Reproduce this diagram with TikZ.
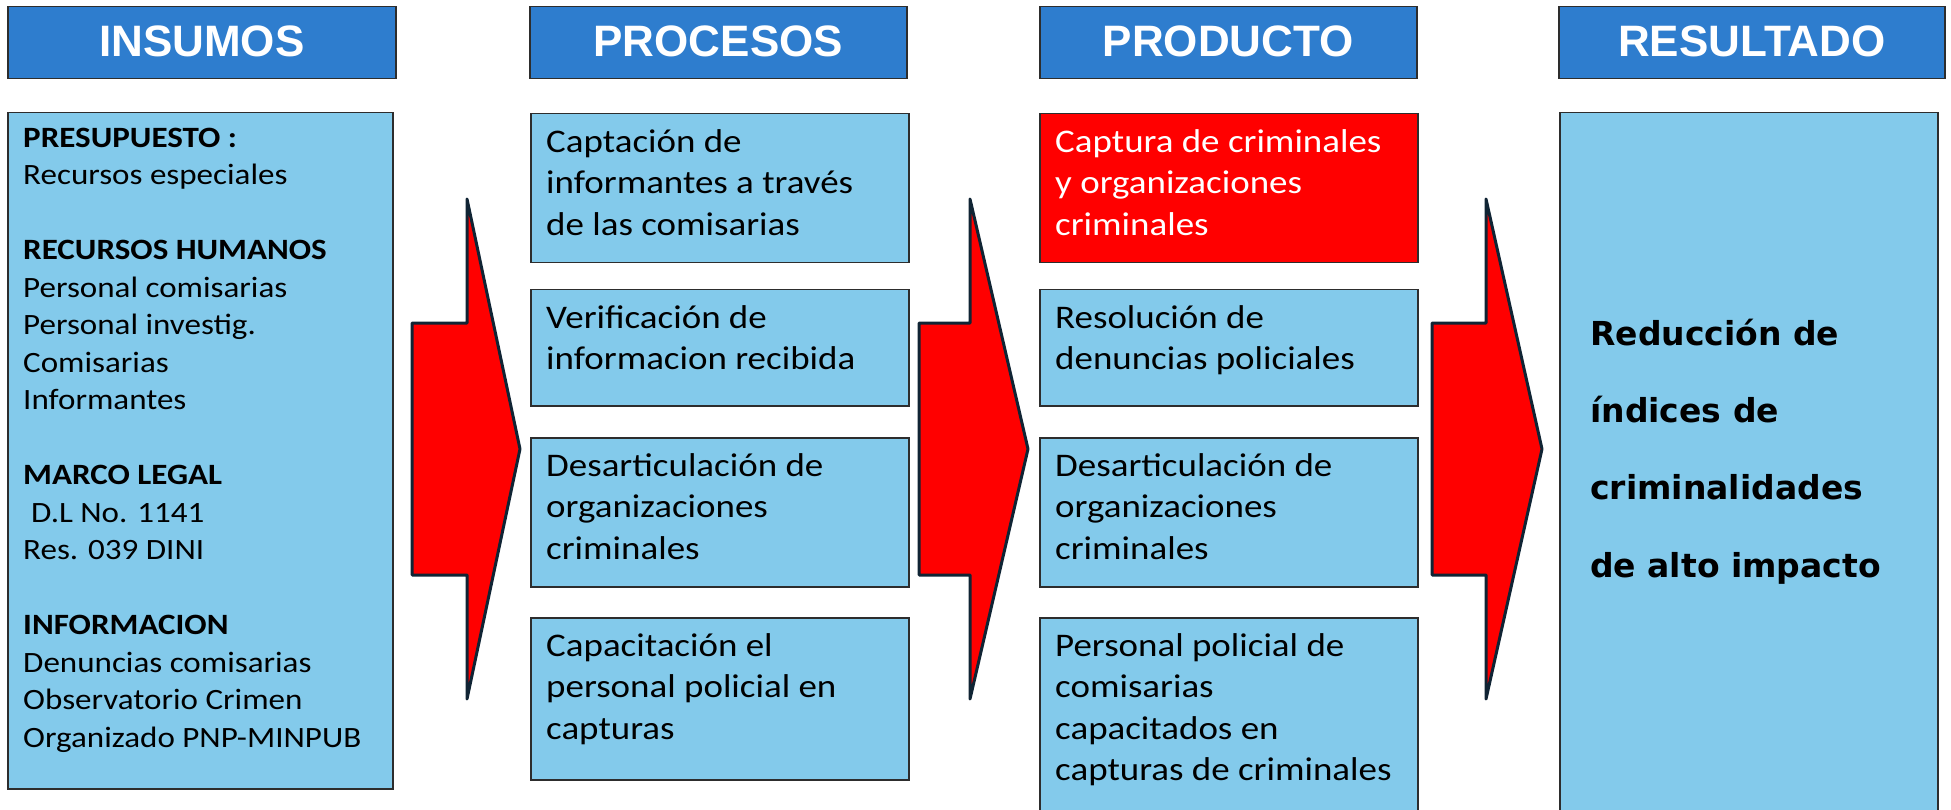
\documentclass[tikz,border=0pt]{standalone}
\usepackage{fontspec}
\newfontfamily\bodyfont[FakeStretch=1.12]{Carlito}
\newfontfamily\hdrfont{Liberation Sans}
\newfontfamily\resfont{DejaVu Sans}
\definecolor{hdrblue}{RGB}{46,125,206}
\definecolor{boxblue}{RGB}{131,202,235}
\definecolor{arrowred}{RGB}{255,0,0}
\definecolor{edgegray}{RGB}{45,45,45}
\definecolor{arrowedge}{RGB}{16,36,52}
\newcommand{\stA}{\rule{0pt}{27pt}}
\newcommand{\stB}{\rule{0pt}{30pt}}
\newcommand{\stC}{\rule{0pt}{32pt}}
\begin{document}
\begin{tikzpicture}[x=1pt,y=-1pt,
  hdr/.style={draw=edgegray, line width=1.5pt, fill=hdrblue, anchor=north west, inner sep=0pt,
    text=white, font=\hdrfont\bfseries\fontsize{44}{50}\selectfont, text depth=4pt},
  bbox/.style={draw=edgegray, line width=1.5pt, fill=boxblue, anchor=north west, inner sep=0pt},
  rbox/.style={bbox, fill=arrowred},
  btext/.style={anchor=north west, inner sep=0pt, align=left,
    font=\bodyfont\fontsize{33}{41.5}\selectfont},
  itext/.style={anchor=north west, inner sep=0pt, align=left,
    font=\bodyfont\fontsize{29.5}{37.5}\selectfont},
  rtext/.style={anchor=north west, inner sep=0pt, align=left,
    font=\resfont\bfseries\fontsize{33}{77.3}\selectfont},
  bigarrow/.style={draw=arrowedge, line width=3pt, fill=arrowred, line join=round}
]
\useasboundingbox (0,0) rectangle (1951,810);
\clip (0,0) rectangle (1951,810);

% headers
\node[hdr, minimum width=388pt, minimum height=72pt] (hIns) at (7,6) {INSUMOS};
\node[hdr, minimum width=377pt, minimum height=72pt] (hPro) at (529,6) {PROCESOS};
\node[hdr, minimum width=377pt, minimum height=72pt] (hPrd) at (1039,6) {PRODUCTO};
\node[hdr, minimum width=386pt, minimum height=72pt] (hRes) at (1558,6) {RESULTADO};

% insumos box
\node[bbox, minimum width=385pt, minimum height=676pt] (bIns) at (7,112) {};
\node[itext] (tIns) at (23,120) {\stA\textbf{PRESUPUESTO :}\\ Recursos especiales\\ \mbox{}\\
  \textbf{RECURSOS HUMANOS}\\ Personal comisarias\\ Personal investig.\\ Comisarias\\ Informantes\\ \mbox{}\\
  \textbf{MARCO LEGAL}\\ \hspace*{8pt}D.L No. 1141\\ Res. 039 DINI\\ \mbox{}\\
  \textbf{INFORMACION}\\ Denuncias comisarias\\ Observatorio Crimen\\ Organizado PNP-MINPUB};

% procesos
\node[bbox, minimum width=378pt, minimum height=149pt] (p1) at (530,113) {};
\node[bbox, minimum width=378pt, minimum height=116pt] (p2) at (530,289) {};
\node[bbox, minimum width=378pt, minimum height=149pt] (p3) at (530,437) {};
\node[bbox, minimum width=378pt, minimum height=162pt] (p4) at (530,617) {};
\node[btext] (tp1) at (546,122) {\stB Captación de\\ informantes a través\\ de las comisarias};
\node[btext] (tp2) at (546,298) {\stB Verificación de\\ informacion recibida};
\node[btext] (tp3) at (546,446) {\stB Desarticulación de\\ organizaciones\\ criminales};
\node[btext] (tp4) at (546,626) {\stB Capacitación el\\ personal policial en\\ capturas};

% producto
\node[rbox, minimum width=378pt, minimum height=149pt] (q1) at (1039,113) {};
\node[bbox, minimum width=378pt, minimum height=116pt] (q2) at (1039,289) {};
\node[bbox, minimum width=378pt, minimum height=149pt] (q3) at (1039,437) {};
\node[bbox, minimum width=378pt, minimum height=250pt] (q4) at (1039,617) {};
\node[btext, text=white] (tq1) at (1055,122) {\stB Captura de criminales\\ y organizaciones\\ criminales};
\node[btext] (tq2) at (1055,298) {\stB Resolución de\\ denuncias policiales};
\node[btext] (tq3) at (1055,446) {\stB Desarticulación de\\ organizaciones\\ criminales};
\node[btext] (tq4) at (1055,626) {\stB Personal policial de\\ comisarias\\ capacitados en\\ capturas de criminales};

% resultado
\node[bbox, minimum width=378pt, minimum height=750pt] (bRes) at (1559,112) {};
\node[rtext] (tRes) at (1590,313) {\stC Reducción de\\ índices de\\ criminalidades\\ de alto impacto};

% block arrows
\draw[bigarrow] (412,323) -- (467,323) -- (467,199) -- (520,449) -- (467,699) -- (467,575) -- (412,575) -- cycle;
\draw[bigarrow] (919,323) -- (970,323) -- (970,199) -- (1028,449) -- (970,699) -- (970,575) -- (919,575) -- cycle;
\draw[bigarrow] (1432,323) -- (1486,323) -- (1486,199) -- (1542,449) -- (1486,699) -- (1486,575) -- (1432,575) -- cycle;
\end{tikzpicture}
\end{document}
